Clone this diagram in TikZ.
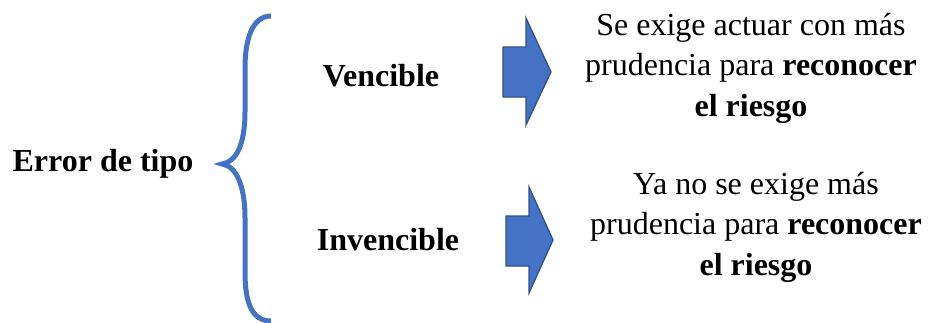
\documentclass[tikz,border=0pt]{standalone}
\usepackage{fontspec}
\setmainfont{Liberation Serif}
\definecolor{bracecol}{HTML}{4472C4}
\definecolor{arrowfill}{HTML}{4472C4}
\definecolor{arrowedge}{HTML}{2F528F}
\tikzset{
  bigtext/.style={inner sep=0pt, anchor=base, align=center, font=\fontsize{32}{40.5}\selectfont},
  bluearrow/.style={fill=arrowfill, draw=arrowedge, line width=1.3pt, line join=miter},
  bracestyle/.style={draw=bracecol, line width=5pt, line cap=butt}
}
\begin{document}
\begin{tikzpicture}[x=1pt,y=-1pt]
\useasboundingbox (0,0) rectangle (930,322);
% brace
\draw[bracestyle] (271,16) .. controls (252,16) and (245,40) .. (245,68) -- (245,112)
  .. controls (245,145) and (236,162) .. (222,164)
  .. controls (236,166) and (245,185) .. (245,218) -- (245,272)
  .. controls (245,303) and (252,321) .. (271,321);
% arrows
\draw[bluearrow] (503,47) -- (526,47) -- (526,18) -- (551,72) -- (526,125) -- (526,97) -- (503,97) -- cycle;
\draw[bluearrow] (506,216) -- (529,216) -- (529,187) -- (553,240) -- (529,293) -- (529,266) -- (506,266) -- cycle;
% texts
\node[bigtext] (err) at (103,171) {\textbf{Error de tipo}};
\node[bigtext] (venc) at (381,86) {\textbf{Vencible}};
\node[bigtext] (invenc) at (388,250) {\textbf{Invencible}};
\node[bigtext] (t1) at (751,116) {Se exige actuar con más\\prudencia para \textbf{reconocer}\\\textbf{el riesgo}};
\node[bigtext] (t2) at (756,275) {Ya no se exige más\\prudencia para \textbf{reconocer}\\\textbf{el riesgo}};
\end{tikzpicture}
\end{document}
